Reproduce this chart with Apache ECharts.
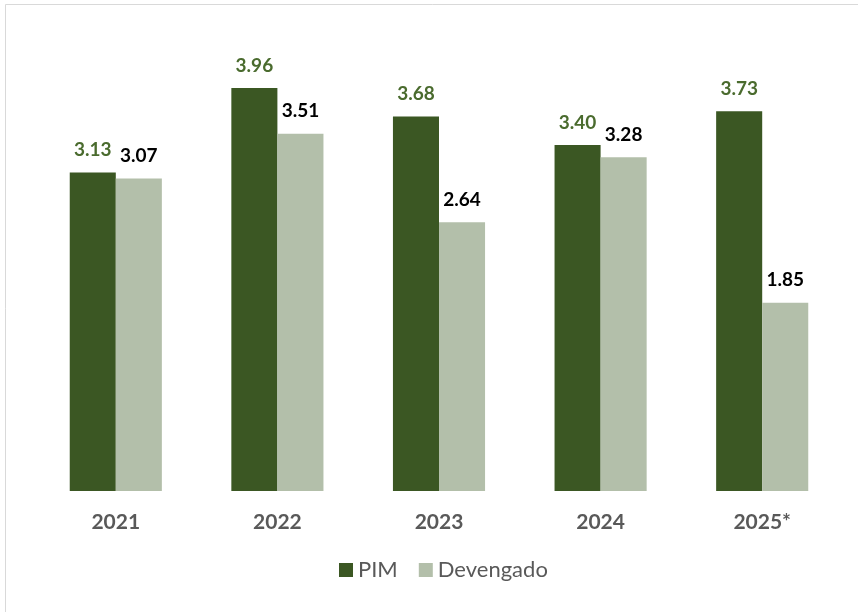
<!DOCTYPE html>
<html>
<head>
<meta charset="utf-8">
<script src="https://cdn.jsdelivr.net/npm/echarts@6/dist/echarts.min.js"></script>
<style>
html,body{margin:0;padding:0;background:#fff;}
#chart{width:858px;height:612px;}
</style>
</head>
<body>
<div id="chart"></div>
<script>
const categories = ['2021', '2022', '2023', '2024', '2025*'];
const pimValues = [3.13, 3.96, 3.68, 3.40, 3.73];
const devengadoValues = [3.07, 3.51, 2.64, 3.28, 1.85];

const FONT = 'Lato';
const chart = echarts.init(document.getElementById('chart'), null, {renderer: 'canvas'});
chart.setOption({
  backgroundColor: '#ffffff',
  animation: false,
  graphic: [{
    type: 'rect',
    shape: {x: 5.5, y: 4.5, width: 900, height: 700},
    style: {fill: 'none', stroke: '#d9d9d9', lineWidth: 1},
    silent: true
  }],
  legend: {
    bottom: 26,
    left: 334,
    itemWidth: 14,
    itemHeight: 14,
    itemGap: 21,
    icon: 'rect',
    textStyle: {fontFamily: FONT, fontSize: 22, color: '#595959', padding: [0, 0, 0, 0]},
    data: ['PIM', 'Devengado']
  },
  grid: {left: 35, right: 15, top: 33, bottom: 121, containLabel: false},
  xAxis: {
    type: 'category',
    data: categories,
    axisLine: {show: false},
    axisTick: {show: false},
    axisLabel: {fontFamily: FONT, fontSize: 21, fontWeight: 'bold', color: '#595959', margin: 21}
  },
  yAxis: {
    type: 'value',
    min: 0,
    max: 4.5,
    show: false,
    splitLine: {show: false}
  },
  series: [
    {
      name: 'PIM',
      type: 'bar',
      data: pimValues,
      barGap: '0%',
      barCategoryGap: '43%',
      itemStyle: {color: '#3b5723'},
      label: {
        show: true,
        position: 'top',
        distance: 13,
        fontFamily: FONT,
        fontSize: 19,
        fontWeight: 'bold',
        color: '#4a6b2e',
        formatter: p => p.value.toFixed(2)
      }
    },
    {
      name: 'Devengado',
      type: 'bar',
      data: devengadoValues,
      itemStyle: {color: '#b3bfaa'},
      label: {
        show: true,
        position: 'top',
        distance: 13,
        fontFamily: FONT,
        fontSize: 19,
        fontWeight: 'bold',
        color: '#000000',
        formatter: p => p.value.toFixed(2)
      }
    }
  ]
});
</script>
</body>
</html>
